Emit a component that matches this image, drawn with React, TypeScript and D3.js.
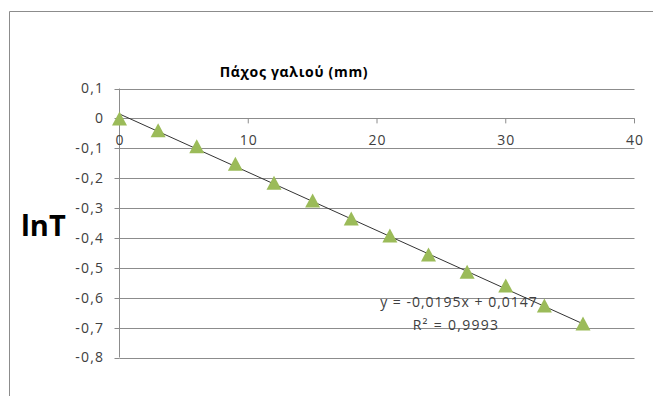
import React from "react";
import * as d3 from "d3";

const thickness = [0, 3, 6, 9, 12, 15, 18, 21, 24, 27, 30, 33, 36];
const lnT = [0, -0.04, -0.093, -0.152, -0.215, -0.275, -0.335, -0.392, -0.455, -0.513, -0.559, -0.626, -0.686];
const xTicks = [0, 10, 20, 30, 40];
const yTicks = [0.1, 0, -0.1, -0.2, -0.3, -0.4, -0.5, -0.6, -0.7, -0.8];
const slope = -0.0195;
const intercept = 0.0147;
const titleText = "Πάχος γαλιού (mm)";
const yLabel = "lnT";
const eqText = "y = -0,0195x + 0,0147";
const r2Text = "R² = 0,9993";

const W = 653;
const H = 396;
const FONT = "'Open Sans', 'Noto Sans', sans-serif";

export default function App() {
  const x = d3.scaleLinear().domain([0, 40]).range([119.5, 634.5]);
  const y = d3.scaleLinear().domain([-0.8, 0.1]).range([357.5, 88.5]);
  const fmt = (v: number) => String(Math.round(v * 10) / 10).replace(".", ",");
  const tw = 15, th = 14;
  const tri = `M0,${-th / 2}L${tw / 2},${th / 2}L${-tw / 2},${th / 2}Z`;
  const trend = d3.line<number>().x((d) => x(d)).y((d) => y(slope * d + intercept));
  const gridColor = "#8c8c8c";
  const textColor = "#404040";
  const ls = 1.2;
  return (
    <svg width={W} height={H} style={{ position: "absolute", left: 0, top: 0, background: "#fff" }} fontFamily={FONT}>
      <rect x={0} y={0} width={W} height={H} fill="#fff" />
      <path d={`M9.5,${H}V11.5H${W}`} fill="none" stroke="#8c8c8c" strokeWidth={1} />
      {yTicks.map((t) => (
        <line key={"g" + t} x1={x(0)} x2={x(40)} y1={Math.round(y(t)) + 0.5} y2={Math.round(y(t)) + 0.5} stroke={gridColor} strokeWidth={1} />
      ))}
      <line x1={x(0)} x2={x(0)} y1={y(0.1)} y2={y(-0.8)} stroke={gridColor} />
      {yTicks.map((t) => (
        <g key={"yt" + t}>
          <line x1={x(0) - 5} x2={x(0)} y1={Math.round(y(t)) + 0.5} y2={Math.round(y(t)) + 0.5} stroke={gridColor} />
          <text x={103 + ls} y={y(t)} dy="0.35em" textAnchor="end" fontSize={14} letterSpacing={ls} fill={textColor}>{fmt(t)}</text>
        </g>
      ))}
      {xTicks.map((t) => (
        <g key={"xt" + t}>
          <line x1={x(t)} x2={x(t)} y1={y(0)} y2={y(0) + 5} stroke={gridColor} />
          <text x={x(t) + ls / 2} y={y(0) + 27} textAnchor="middle" fontSize={14} letterSpacing={ls} fill={textColor}>{t}</text>
        </g>
      ))}
      <path d={trend([0, 36]) || ""} fill="none" stroke="#333" strokeWidth={1} />
      {thickness.map((t, i) => (
        <path key={"m" + i} d={tri} transform={`translate(${x(t)},${y(lnT[i])})`} fill="#9bbb59" />
      ))}
      <text x={294} y={77} textAnchor="middle" fontSize={14} letterSpacing={0.7} fontWeight="bold" fill="#000">{titleText}</text>
      <text x={21} y={236} fontSize={29} fontWeight="bold" fill="#000">{yLabel}</text>
      <text x={459} y={302} dy="0.35em" textAnchor="middle" fontSize={14} letterSpacing={1.0} fill={textColor}>{eqText}</text>
      <text x={456} y={325} dy="0.35em" textAnchor="middle" fontSize={14} letterSpacing={1.3} fill={textColor}>{r2Text}</text>
    </svg>
  );
}
